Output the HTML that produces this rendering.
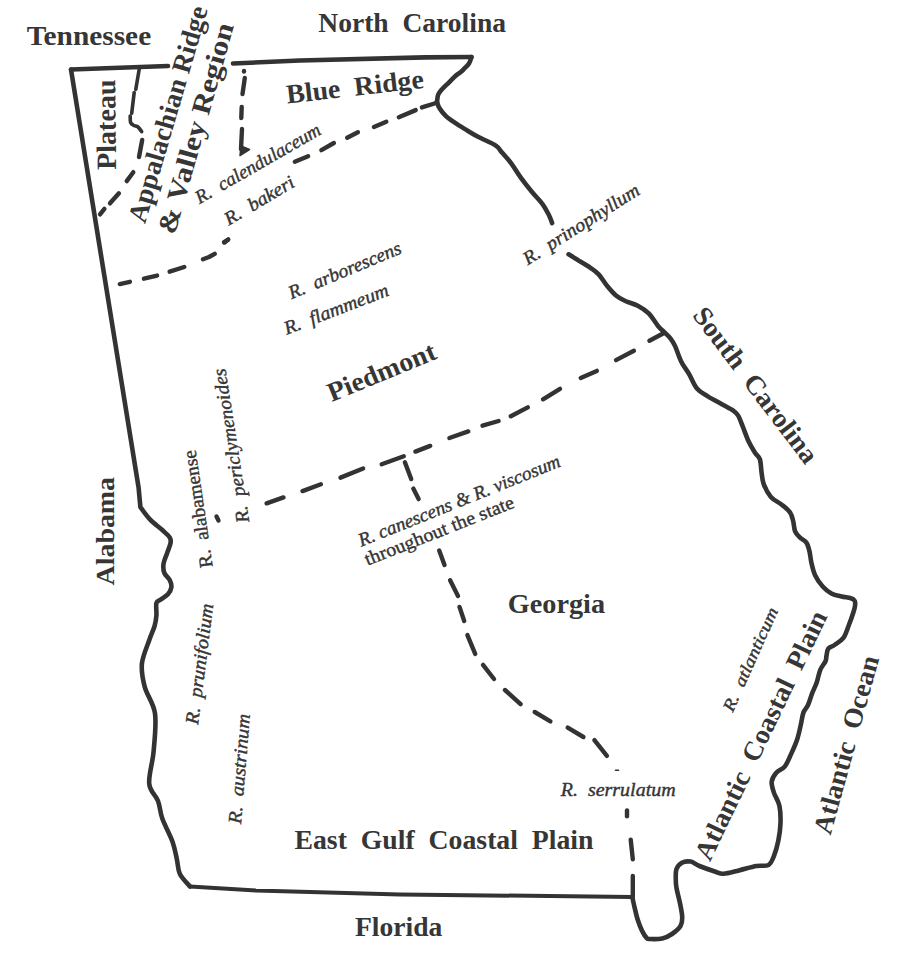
<!DOCTYPE html><html><head><meta charset="utf-8"><style>html,body{margin:0;padding:0;background:#fff;width:900px;height:958px;overflow:hidden}svg{display:block}text{font-family:"Liberation Serif",serif;fill:#363636}</style></head><body>
<svg width="900" height="958" viewBox="0 0 900 958">
<rect width="900" height="958" fill="#fff"/>
<g fill="none" stroke="#333333" stroke-width="4.4" stroke-linecap="round" stroke-linejoin="round">
<path stroke-width="4.6" d="M71.0 69.5 L168.0 66.0"/>
<path stroke-width="4.6" d="M233.0 63.5 L300.0 60.5 L425.0 57.4 L471.5 57.0"/>
<path stroke-width="4.6" d="M471.5 57.0 C471.1 58.1 470.2 61.6 469.0 63.5 C467.8 65.4 465.9 67.0 464.5 68.4 C463.1 69.8 462.3 70.8 460.8 72.0 C459.3 73.2 457.6 74.0 455.7 75.7 C453.8 77.4 451.4 80.0 449.1 82.3 C446.8 84.6 443.6 87.5 441.8 89.6 C440.0 91.7 439.0 92.7 438.2 94.7 C437.4 96.7 437.2 100.5 437.0 101.7"/>
<path stroke-width="4.6" d="M437.0 101.7 C437.4 102.8 437.9 105.7 439.4 108.0 C440.8 110.3 443.1 113.3 445.7 115.8 C448.3 118.3 451.5 120.4 455.1 122.9 C458.8 125.4 463.7 128.3 467.6 130.7 C471.5 133.0 473.8 134.5 478.5 137.0 C483.2 139.5 491.9 143.0 495.8 145.6 C499.7 148.2 499.4 149.6 502.0 152.6 C504.6 155.6 508.3 159.4 511.4 163.6 C514.5 167.8 517.4 173.0 520.8 177.7 C524.2 182.4 528.1 187.4 531.8 191.8 C535.4 196.2 539.8 200.4 542.7 204.3 C545.6 208.2 547.4 212.2 549.0 215.3 C550.6 218.4 551.6 221.8 552.1 223.1"/>
<path stroke-width="4.6" d="M568.6 254.3 C570.3 255.4 575.0 258.3 578.7 260.6 C582.5 262.9 587.7 266.0 591.1 268.3 C594.5 270.6 596.3 271.8 598.9 274.6 C601.5 277.5 603.9 281.9 606.7 285.4 C609.6 288.9 612.9 293.0 616.0 295.6 C619.1 298.2 621.7 299.3 625.3 301.0 C628.9 302.7 633.9 303.6 637.8 305.7 C641.7 307.8 645.3 310.0 648.7 313.4 C652.1 316.8 655.4 322.8 658.0 325.9 C660.6 329.0 662.1 330.0 664.2 332.1 C666.3 334.2 668.6 336.0 670.4 338.3 C672.2 340.6 673.3 342.2 675.1 346.1 C676.9 350.0 679.0 357.0 681.3 361.7 C683.6 366.4 686.5 369.6 689.1 374.1 C691.8 378.6 694.0 385.1 697.2 388.8 C700.4 392.6 704.0 394.0 708.2 396.6 C712.4 399.2 718.1 402.1 722.3 404.5 C726.5 406.9 730.7 408.9 733.3 410.7 C735.9 412.5 736.4 412.8 738.0 415.4 C739.6 418.0 740.9 421.9 742.7 426.4 C744.5 430.8 746.8 437.7 748.9 442.1 C751.0 446.5 753.4 450.1 755.2 453.0 C757.0 455.9 758.9 456.2 759.9 459.3 C760.9 462.4 760.9 467.6 761.5 471.8 C762.1 476.0 762.2 480.2 763.8 484.4 C765.4 488.6 767.9 493.5 770.9 496.9 C773.9 500.3 778.6 502.1 781.8 504.7 C785.0 507.3 788.2 509.7 790.1 512.5 C792.0 515.3 792.4 518.2 793.2 521.3 C794.0 524.4 794.0 528.6 795.1 531.3 C796.2 534.0 798.2 535.7 800.1 537.6 C802.0 539.5 804.8 540.3 806.4 542.6 C808.0 544.9 808.7 548.0 809.5 551.4 C810.3 554.8 810.5 558.7 811.4 562.7 C812.3 566.7 813.2 571.2 815.1 575.2 C817.0 579.2 820.0 583.5 822.7 586.5 C825.4 589.5 828.3 591.7 831.4 593.4 C834.5 595.1 838.2 595.7 841.5 596.5 C844.8 597.3 848.8 597.5 851.0 598.3 C853.2 599.0 854.1 599.7 854.8 601.0 C855.5 602.3 855.2 604.2 855.0 606.0 C854.8 607.8 854.5 608.8 853.5 612.0 C852.5 615.2 850.4 621.2 848.7 625.5 C847.0 629.8 845.8 634.6 843.4 637.9 C841.0 641.1 837.0 643.2 834.5 645.0 C832.0 646.8 829.6 646.8 828.3 648.6 C827.0 650.4 827.0 653.5 826.5 655.6 C826.0 657.7 826.6 658.6 825.6 661.0 C824.6 663.4 821.8 666.2 820.3 669.8 C818.8 673.3 818.1 678.4 816.8 682.3 C815.5 686.1 813.8 689.1 812.3 692.9 C810.8 696.7 809.4 702.0 807.9 705.3 C806.4 708.5 804.7 709.1 803.5 712.4 C802.3 715.6 801.8 720.4 800.8 724.8 C799.8 729.2 798.8 734.3 797.3 739.0 C795.8 743.7 793.6 748.6 791.5 753.1 C789.4 757.6 787.5 763.0 784.9 766.3 C782.3 769.6 778.3 770.3 776.1 772.9 C773.9 775.5 772.1 778.3 771.7 781.6 C771.3 784.9 772.6 788.6 773.9 792.6 C775.2 796.6 778.3 800.6 779.4 805.7 C780.5 810.8 780.7 817.4 780.5 823.3 C780.3 829.1 779.4 835.3 778.3 840.8 C777.2 846.3 775.5 852.1 773.9 856.1 C772.3 860.1 771.4 863.2 768.5 864.9 C765.6 866.5 761.3 865.1 756.4 866.0 C751.5 866.9 744.4 869.1 738.9 870.4 C733.4 871.7 727.5 873.5 723.5 873.7 C719.5 873.9 718.8 872.8 714.8 871.5 C710.8 870.2 703.4 867.6 699.4 866.0 C695.4 864.4 693.6 862.1 690.7 861.6 C687.8 861.1 684.3 861.4 681.9 862.7 C679.5 864.0 677.4 866.4 676.4 869.3 C675.4 872.2 675.8 877.1 675.8 880.2 C675.8 883.3 675.8 884.1 676.5 888.0 C677.2 891.9 679.0 898.5 680.0 903.3 C681.0 908.1 682.1 913.2 682.2 917.0 C682.3 920.8 682.2 923.2 680.5 926.0 C678.8 928.8 675.0 931.9 672.0 934.0 C669.0 936.1 665.9 937.7 662.2 938.5 C658.5 939.3 652.6 939.1 650.0 939.0 C647.4 938.9 648.0 939.3 646.7 938.0 C645.4 936.7 643.7 934.1 642.2 931.1 C640.7 928.1 639.1 924.1 637.8 920.0 C636.5 915.9 635.3 910.6 634.4 906.7 C633.5 902.8 632.6 898.4 632.2 896.7"/>
<path stroke-width="4.6" d="M190.0 886.5 C188.3 884.4 182.1 878.5 179.9 874.0 C177.7 869.5 178.1 864.8 176.9 859.4 C175.7 854.0 175.0 848.7 172.6 841.9 C170.2 835.1 164.7 825.3 162.3 818.5 C159.9 811.7 160.2 806.8 158.0 801.0 C155.8 795.2 149.9 791.8 149.2 783.5 C148.5 775.2 152.6 763.1 153.6 751.4 C154.6 739.7 156.5 724.1 155.0 713.4 C153.5 702.7 147.0 695.5 144.8 687.2 C142.6 678.9 141.2 671.7 141.9 663.8 C142.7 655.9 147.2 646.3 149.3 640.0 C151.4 633.7 153.4 630.1 154.6 626.0 C155.8 621.9 156.1 619.2 156.4 615.4 C156.7 611.6 155.7 605.6 156.4 603.0 C157.1 600.4 158.9 601.0 160.8 599.5 C162.7 598.0 166.1 596.3 167.9 594.2 C169.7 592.1 171.1 589.5 171.4 587.1 C171.7 584.7 170.9 582.4 169.7 580.0 C168.5 577.6 165.3 575.6 164.3 572.9 C163.3 570.2 163.1 567.2 163.5 564.0 C163.9 560.8 165.8 556.9 167.0 553.4 C168.2 549.9 170.2 545.4 170.6 542.7 C171.0 540.0 171.0 539.5 169.7 537.4 C168.4 535.3 165.8 533.2 162.6 530.3 C159.3 527.3 153.9 523.6 150.2 519.7 C146.5 515.9 142.0 509.3 140.4 507.2 L138.6 487.7 L71 69.5"/>
<path stroke-width="3.6" d="M139.2 69.2 L135.8 89.2 M134.2 92.5 L131.7 113.3"/>
<path stroke-width="3.6" d="M130.2 116.0 C130.3 117.1 130.0 120.9 130.6 122.5 C131.2 124.1 132.8 124.8 134.0 125.5 C135.2 126.2 136.7 126.0 138.0 127.0 C139.3 128.0 141.1 130.9 141.7 131.7"/>
<path stroke-width="4" d="M632.2 897.0 L400.0 894.4 L256.0 890.5 L190.0 886.5"/>
<path d="M142.2 140.0 L139.0 157.0"/>
<path d="M133.3 172.2 L126.7 181.1"/>
<path d="M118.9 193.3 L110.0 203.3"/>
<path d="M104.4 208.9 L100.0 214.4"/>
<path d="M244.0 71.0 L244.0 71.6"/>
<path d="M244.8 78.0 L242.5 94.0"/>
<path d="M241.7 107.0 L241.3 118.0"/>
<path d="M242.0 129.0 L241.0 149.0"/>
<path d="M294.8 161.7 L308.1 156.3"/>
<path d="M321.4 150.1 L333.9 143.0"/>
<path d="M347.2 137.7 L357.9 132.3"/>
<path d="M373.9 127.0 L386.3 121.7"/>
<path d="M398.8 117.2 L415.7 110.1"/>
<path d="M421.9 107.4 L436.1 103.0"/>
<path d="M119.8 284.1 L129.9 281.8"/>
<path d="M143.9 278.7 L157.1 275.6"/>
<path d="M169.6 271.7 L184.3 267.0"/>
<path d="M203.0 259.2 L209.0 257.0 L214.7 253.8"/>
<path d="M224.0 242.1 L227.9 239.8"/>
<path d="M224.5 242.5 L228.3 239.4"/>
<path d="M216.5 516.5 L218.5 520.5"/>
<path d="M266.6 503.3 L283.5 497.4"/>
<path d="M302.5 491.1 L320.9 484.3"/>
<path d="M340.5 477.6 L363.1 468.5"/>
<path d="M381.7 464.3 L403.8 456.3"/>
<path d="M415.4 451.6 L430.2 445.9"/>
<path d="M449.4 438.0 L468.3 431.4"/>
<path d="M482.5 425.7 L498.6 421.0"/>
<path d="M510.8 416.3 L527.8 407.4"/>
<path d="M543.0 399.3 L560.0 388.9"/>
<path d="M580.7 377.9 L596.8 370.9"/>
<path d="M616.0 360.1 L633.9 350.8"/>
<path d="M649.4 340.7 L664.0 333.0"/>
<path d="M404.9 462.2 L411.2 479.1"/>
<path d="M413.3 488.6 L418.6 499.1"/>
<path d="M439.2 550.5 L444.5 565.0"/>
<path d="M450.1 580.3 L458.0 596.0"/>
<path d="M459.5 606.9 L464.2 621.0"/>
<path d="M467.4 635.1 L475.2 653.9"/>
<path d="M483.0 664.9 L494.0 679.0"/>
<path d="M505.0 690.0 L520.6 704.1"/>
<path d="M534.7 712.0 L550.4 721.4"/>
<path d="M567.7 727.6 L583.4 737.0"/>
<path d="M594.4 740.2 L606.9 755.9"/>
<path d="M627.0 810.4 L627.0 816.2"/>
<path d="M630.7 839.6 L632.8 859.3"/>
<path d="M632.8 876.0 L632.8 897.0"/>
<path d="M241 146 L249.5 149.5 L240 155.5 Z" fill="#333333" stroke="#333333" stroke-width="1.5"/>
<path stroke-width="1.6" d="M615.5 770.2 L618.5 770.2"/>
</g>
<g>
<text transform="translate(26.72 44.73) rotate(0.00)" textLength="124.45" lengthAdjust="spacingAndGlyphs" style="font-size:27.0px;font-weight:bold;" xml:space="preserve">Tennessee</text>
<text transform="translate(318.26 31.95) rotate(0.00)" textLength="187.78" lengthAdjust="spacingAndGlyphs" style="font-size:27.0px;font-weight:bold;" xml:space="preserve">North  Carolina</text>
<text transform="translate(287.16 103.50) rotate(-6.53)" textLength="138.31" lengthAdjust="spacingAndGlyphs" style="font-size:27.0px;font-weight:bold;" xml:space="preserve">Blue  Ridge</text>
<text transform="translate(144.91 224.22) rotate(-73.66)" textLength="224.07" lengthAdjust="spacingAndGlyphs" style="font-size:27.0px;font-weight:bold;" xml:space="preserve">Appalachian Ridge</text>
<text transform="translate(174.87 235.44) rotate(-74.23)" textLength="217.86" lengthAdjust="spacingAndGlyphs" style="font-size:27.0px;font-weight:bold;" xml:space="preserve">&amp; Valley Region</text>
<text transform="translate(116.12 169.83) rotate(-90.60)" textLength="90.35" lengthAdjust="spacingAndGlyphs" style="font-size:28.0px;font-weight:bold;" xml:space="preserve">Plateau</text>
<text transform="translate(331.70 401.96) rotate(-22.33)" textLength="115.02" lengthAdjust="spacingAndGlyphs" style="font-size:27.0px;font-weight:bold;" xml:space="preserve">Piedmont</text>
<text transform="translate(507.76 613.17) rotate(0.00)" textLength="97.37" lengthAdjust="spacingAndGlyphs" style="font-size:27.0px;font-weight:bold;" xml:space="preserve">Georgia</text>
<text transform="translate(294.46 849.22) rotate(0.00)" textLength="299.02" lengthAdjust="spacingAndGlyphs" style="font-size:27.0px;font-weight:bold;" xml:space="preserve">East  Gulf  Coastal  Plain</text>
<text transform="translate(354.96 935.60) rotate(0.00)" textLength="87.37" lengthAdjust="spacingAndGlyphs" style="font-size:27.0px;font-weight:bold;" xml:space="preserve">Florida</text>
<text transform="translate(113.90 585.41) rotate(-89.89)" textLength="108.41" lengthAdjust="spacingAndGlyphs" style="font-size:26.0px;font-weight:bold;" xml:space="preserve">Alabama</text>
<text transform="translate(691.63 315.59) rotate(52.79)" textLength="188.25" lengthAdjust="spacingAndGlyphs" style="font-size:27.0px;font-weight:bold;" xml:space="preserve">South  Carolina</text>
<text transform="translate(709.94 862.31) rotate(-64.41)" textLength="273.03" lengthAdjust="spacingAndGlyphs" style="font-size:27.0px;font-weight:bold;" xml:space="preserve">Atlantic  Coastal  Plain</text>
<text transform="translate(830.51 835.67) rotate(-74.64)" textLength="183.80" lengthAdjust="spacingAndGlyphs" style="font-size:27.0px;font-weight:bold;" xml:space="preserve">Atlantic  Ocean</text>
<text transform="translate(199.43 204.37) rotate(-29.99)" textLength="141.78" lengthAdjust="spacingAndGlyphs" style="font-size:19.0px;font-style:italic;stroke:#333333;stroke-width:0.4px;" xml:space="preserve">R.  calendulaceum</text>
<text transform="translate(228.81 225.77) rotate(-30.73)" textLength="78.06" lengthAdjust="spacingAndGlyphs" style="font-size:19.0px;font-style:italic;stroke:#333333;stroke-width:0.4px;" xml:space="preserve">R.  bakeri</text>
<text transform="translate(291.48 299.36) rotate(-22.72)" textLength="120.59" lengthAdjust="spacingAndGlyphs" style="font-size:19.0px;font-style:italic;stroke:#333333;stroke-width:0.4px;" xml:space="preserve">R.  arborescens</text>
<text transform="translate(286.63 334.76) rotate(-20.95)" textLength="110.70" lengthAdjust="spacingAndGlyphs" style="font-size:19.0px;font-style:italic;stroke:#333333;stroke-width:0.4px;" xml:space="preserve">R.  flammeum</text>
<text transform="translate(527.64 265.38) rotate(-32.36)" textLength="134.26" lengthAdjust="spacingAndGlyphs" style="font-size:19.0px;font-style:italic;stroke:#333333;stroke-width:0.4px;" xml:space="preserve">R.  prinophyllum</text>
<text transform="translate(212.75 566.63) rotate(-98.37)" textLength="118.43" lengthAdjust="spacingAndGlyphs" style="font-size:19.0px;stroke:#333333;stroke-width:0.4px;" xml:space="preserve">R.  alabamense</text>
<text transform="translate(249.34 521.87) rotate(-98.91)" textLength="155.90" lengthAdjust="spacingAndGlyphs" style="font-size:19.0px;font-style:italic;stroke:#333333;stroke-width:0.4px;" xml:space="preserve">R.  periclymenoides</text>
<text transform="translate(198.00 724.95) rotate(-82.78)" textLength="121.38" lengthAdjust="spacingAndGlyphs" style="font-size:19.0px;font-style:italic;stroke:#333333;stroke-width:0.4px;" xml:space="preserve">R.  prunifolium</text>
<text transform="translate(241.05 824.14) rotate(-85.38)" textLength="110.05" lengthAdjust="spacingAndGlyphs" style="font-size:19.0px;font-style:italic;stroke:#333333;stroke-width:0.4px;" xml:space="preserve">R.  austrinum</text>
<text transform="translate(361.22 546.76) rotate(-21.92)" textLength="216.14" lengthAdjust="spacingAndGlyphs" style="font-size:19.0px;font-style:italic;stroke:#333333;stroke-width:0.4px;" xml:space="preserve">R. canescens &amp; R. viscosum</text>
<text transform="translate(367.41 565.80) rotate(-21.59)" textLength="159.32" lengthAdjust="spacingAndGlyphs" style="font-size:19.0px;stroke:#333333;stroke-width:0.4px;" xml:space="preserve">throughout the state</text>
<text transform="translate(560.77 796.30) rotate(0.00)" textLength="114.81" lengthAdjust="spacingAndGlyphs" style="font-size:19.0px;font-style:italic;stroke:#333333;stroke-width:0.4px;" xml:space="preserve">R.  serrulatum</text>
<text transform="translate(732.64 712.78) rotate(-65.94)" textLength="111.95" lengthAdjust="spacingAndGlyphs" style="font-size:17.0px;font-style:italic;stroke:#333333;stroke-width:0.4px;" xml:space="preserve">R.  atlanticum</text>
</g></svg></body></html>
